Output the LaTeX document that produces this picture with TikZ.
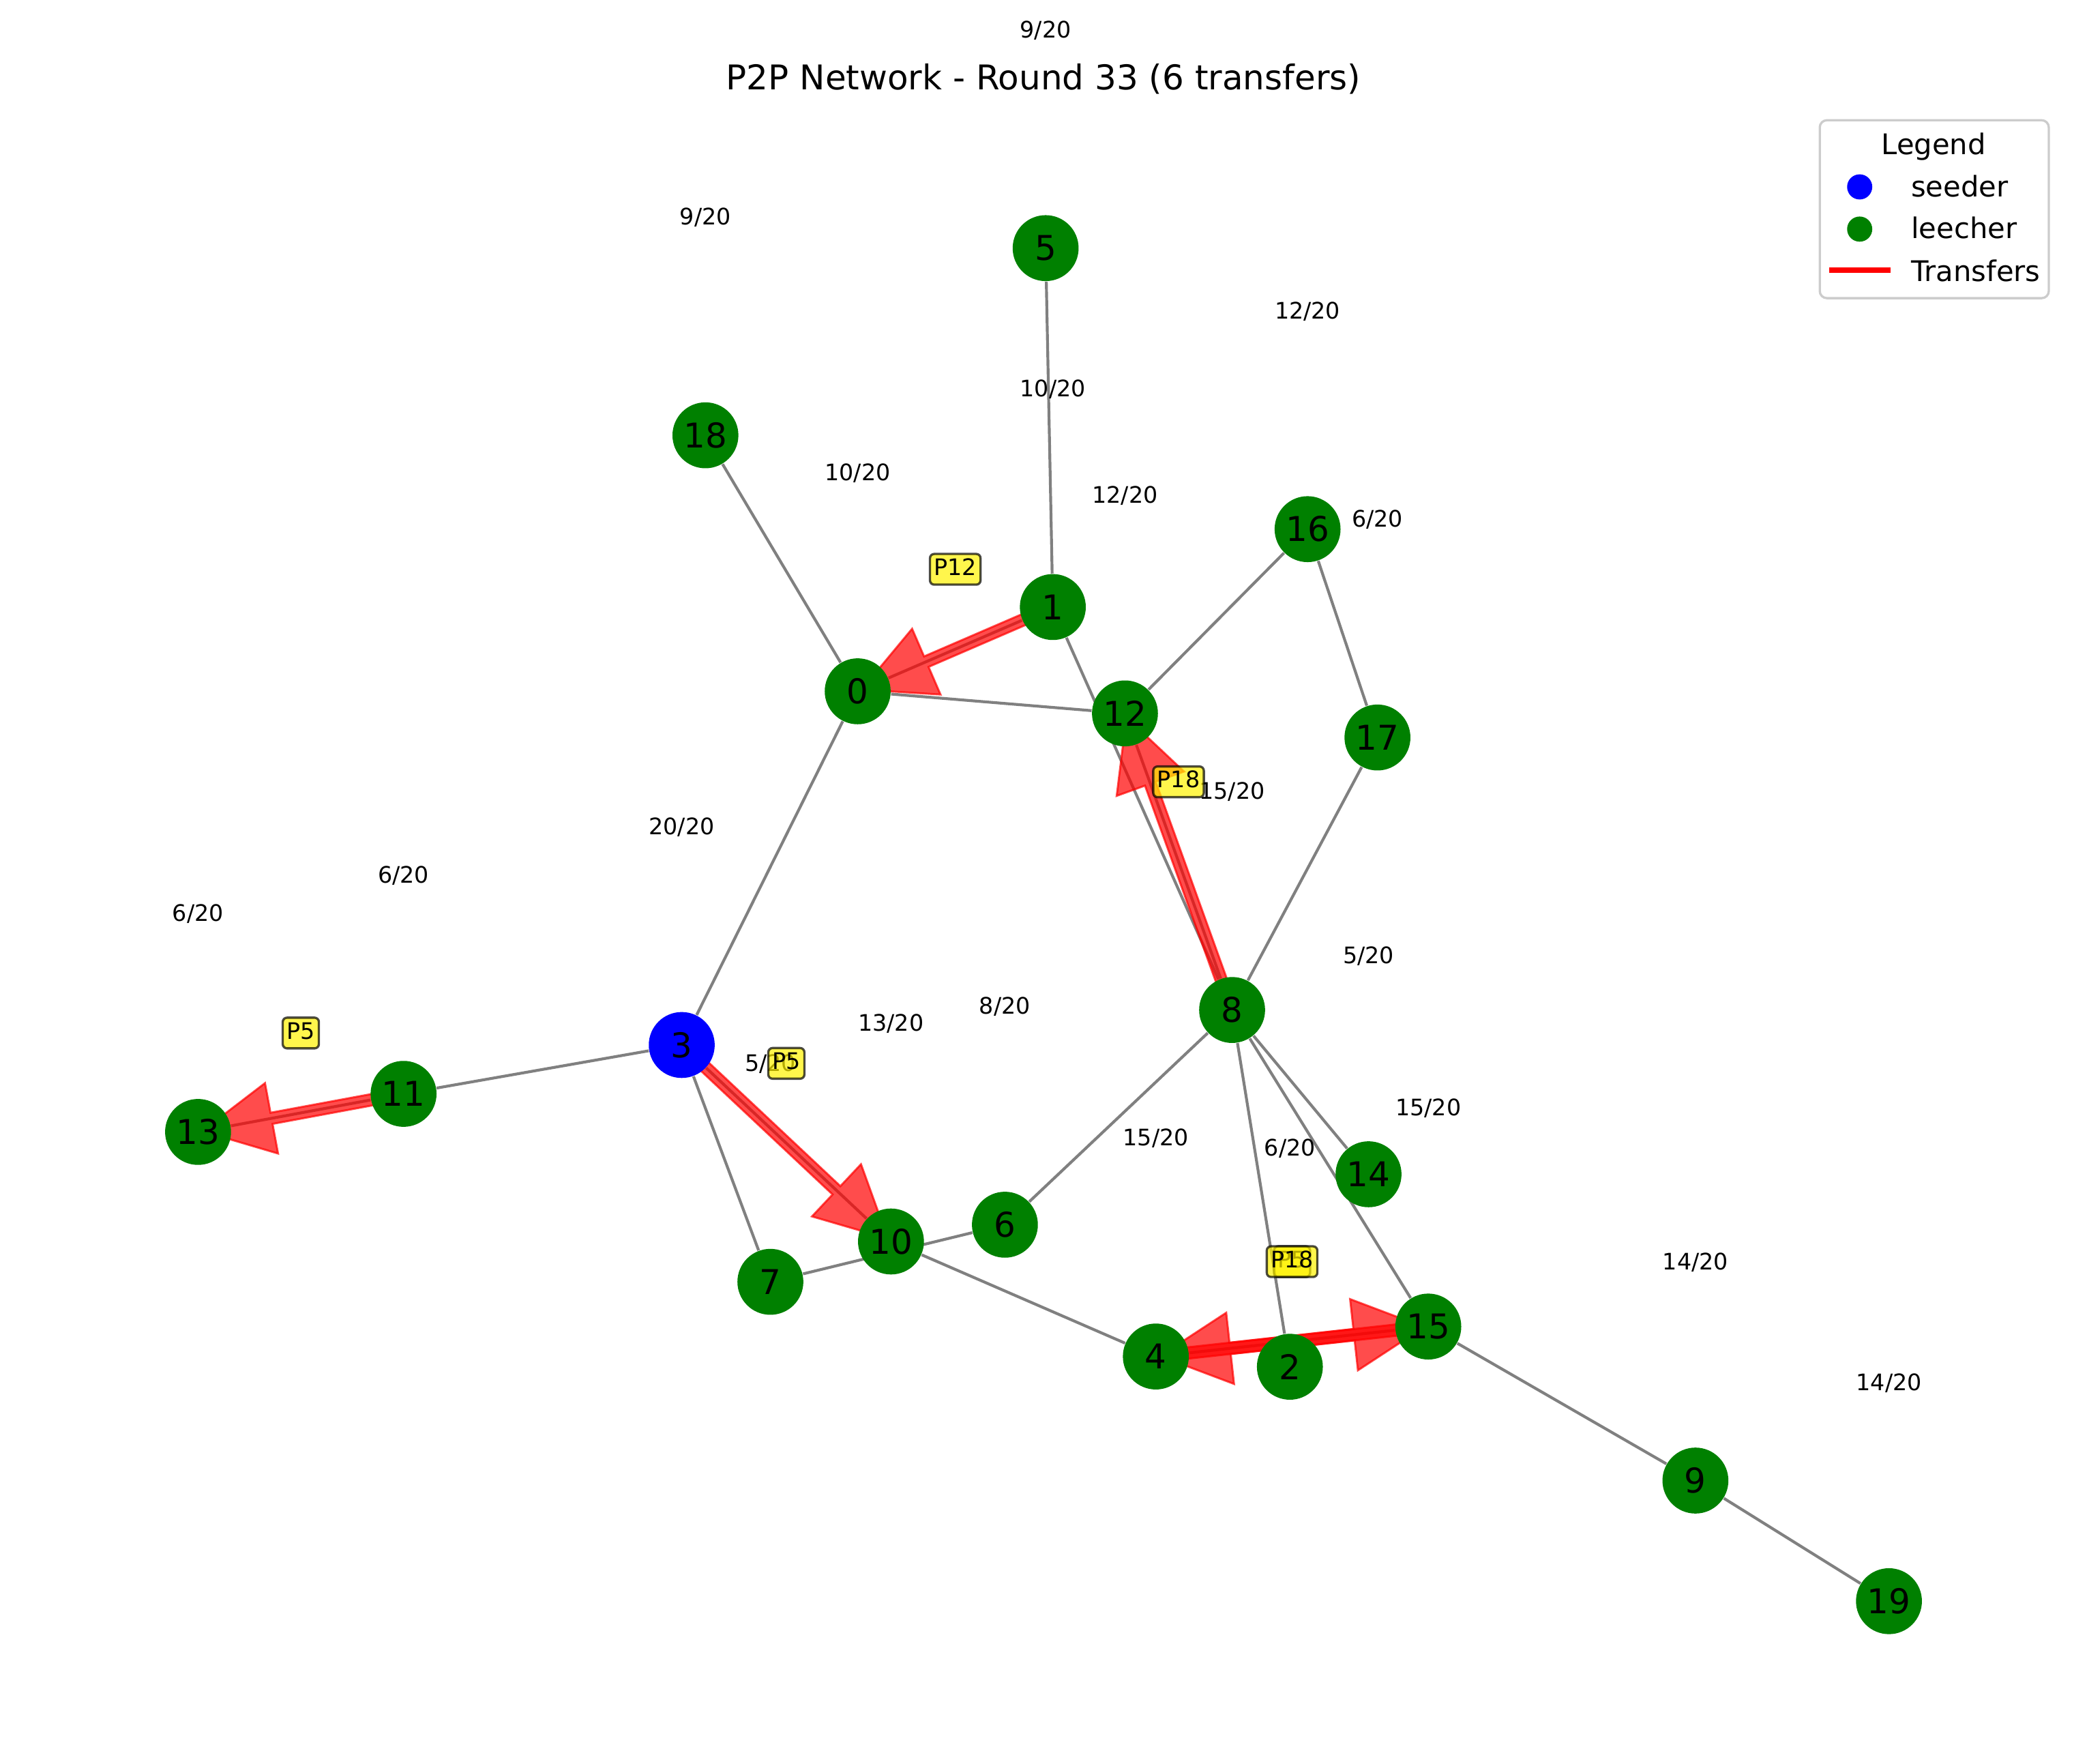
\documentclass[tikz,border=0pt]{standalone}
\usepackage{fontspec}
\setmainfont{DejaVu Sans}
\usetikzlibrary{calc}
\definecolor{mgreen}{RGB}{0,128,0}
\definecolor{lgedge}{RGB}{204,204,204}
\pgfdeclarelayer{bg}
\pgfdeclarelayer{mid}
\pgfsetlayers{bg,mid,main}
\def\xns{0.5pt}
\def\xnt{1.5pt}
\def\xhl{24.8pt}
\def\xhw{12.6pt}
\def\xtw{2.0pt}
\newcommand{\xferarrow}[2]{%
  \coordinate (xs) at ($(#1)!\xns!(#2)$);
  \coordinate (xt) at ($(#2)!\xnt!(#1)$);
  \coordinate (xh) at ($(xt)!\xhl!(xs)$);
  \path[xfer] ($(xs)!\xtw!90:(xt)$) -- ($(xh)!\xtw!-90:(xs)$) -- ($(xh)!\xhw!-90:(xs)$) -- (xt)
     -- ($(xh)!\xhw!90:(xs)$) -- ($(xh)!\xtw!90:(xs)$) -- ($(xs)!\xtw!-90:(xt)$) -- cycle;
}
\begin{document}
\begin{tikzpicture}[x=0.4684pt,y=-0.4684pt,
  peer/.style={circle,fill=mgreen,minimum size=23.2pt,inner sep=0pt,font=\fontsize{12}{14}\selectfont},
  seed/.style={peer,fill=blue},
  link/.style={draw=gray,line width=1pt},
  count/.style={font=\fontsize{8}{9.6}\selectfont,inner sep=0pt,anchor=base},
  piece/.style={draw=black,draw opacity=0.7,fill=yellow,fill opacity=0.7,text opacity=1,rounded corners=1.5pt,line width=0.8pt,font=\fontsize{8}{9.6}\selectfont,inner xsep=1.4pt,inner ysep=1.4pt,text height=6.1pt,text depth=1.9pt},
  xfer/.style={fill=red,fill opacity=0.7,draw=red,draw opacity=0.7,line width=0.7pt,line join=miter},
  legendbox/.style={draw=lgedge,line width=0.8pt,rounded corners=2.5pt,fill=white,fill opacity=0.8,minimum width=80.6pt,minimum height=62.6pt,inner sep=0pt},
  legtext/.style={font=\fontsize{10}{12}\selectfont,inner sep=0pt,anchor=base west},
  keydot/.style={circle,minimum size=8.85pt,inner sep=0pt},
]
\useasboundingbox (0,0) rectangle (1568,1325);

% title
\node[font=\fontsize{12}{14}\selectfont,anchor=base,inner sep=0pt] (title) at (784,67.5) {P2P Network - Round 33 (6 transfers)};

% peers
\node[peer] (n0) at (644.4,519.3) {0};
\node[peer] (n1) at (791,456) {1};
\node[peer] (n2) at (969.1,1026.7) {2};
\node[seed] (n3) at (512.2,785) {3};
\node[peer] (n4) at (868.4,1019) {4};
\node[peer] (n5) at (785.6,186.4) {5};
\node[peer] (n6) at (755,920) {6};
\node[peer] (n7) at (578.8,962.9) {7};
\node[peer] (n8) at (925.7,758.7) {8};
\node[peer] (n9) at (1273.8,1112.2) {9};
\node[peer] (n10) at (669.4,932.6) {10};
\node[peer] (n11) at (303.2,821.7) {11};
\node[peer] (n12) at (845.2,535.9) {12};
\node[peer] (n13) at (148.8,850.3) {13};
\node[peer] (n14) at (1028.2,882.1) {14};
\node[peer] (n15) at (1073.1,996.5) {15};
\node[peer] (n16) at (982.4,397.5) {16};
\node[peer] (n17) at (1034.9,554) {17};
\node[peer] (n18) at (530,327) {18};
\node[peer] (n19) at (1419.2,1202.8) {19};

% network links (under everything)
\begin{pgfonlayer}{bg}
\draw[link] (n5) -- (n1);
\draw[link] (n18) -- (n0);
\draw[link] (n0) -- (n3);
\draw[link] (n0) -- (n12);
\draw[link] (n0) -- (n1);
\draw[link] (n1) -- (n8);
\draw[link] (n12) -- (n8);
\draw[link] (n12) -- (n16);
\draw[link] (n16) -- (n17);
\draw[link] (n17) -- (n8);
\draw[link] (n8) -- (n6);
\draw[link] (n8) -- (n2);
\draw[link] (n8) -- (n14);
\draw[link] (n8) -- (n15);
\draw[link] (n3) -- (n11);
\draw[link] (n11) -- (n13);
\draw[link] (n3) -- (n7);
\draw[link] (n3) -- (n10);
\draw[link] (n7) -- (n6);
\draw[link] (n10) -- (n4);
\draw[link] (n4) -- (n15);
\draw[link] (n15) -- (n9);
\draw[link] (n9) -- (n19);
\end{pgfonlayer}

% transfers (under the peers, over the links)
\begin{pgfonlayer}{mid}
\xferarrow{n1}{n0}
\xferarrow{n8}{n12}
\xferarrow{n11}{n13}
\xferarrow{n3}{n10}
\xferarrow{n4}{n15}
\xferarrow{n15}{n4}
\end{pgfonlayer}

% piece counts
\node[count] (c0) at ($(n0)+(0,-158.2)$) {10/20};
\node[count] (c1) at ($(n1)+(0,-158.2)$) {10/20};
\node[count] (c2) at ($(n2)+(0,-158.2)$) {6/20};
\node[count] (c3) at ($(n3)+(0,-158.2)$) {20/20};
\node[count] (c4) at ($(n4)+(0,-158.2)$) {15/20};
\node[count] (c5) at ($(n5)+(0,-158.2)$) {9/20};
\node[count] (c6) at ($(n6)+(0,-158.2)$) {8/20};
\node[count] (c7) at ($(n7)+(0,-158.2)$) {5/20};
\node[count] (c8) at ($(n8)+(0,-158.2)$) {15/20};
\node[count] (c9) at ($(n9)+(0,-158.2)$) {14/20};
\node[count] (c10) at ($(n10)+(0,-158.2)$) {13/20};
\node[count] (c11) at ($(n11)+(0,-158.2)$) {6/20};
\node[count] (c12) at ($(n12)+(0,-158.2)$) {12/20};
\node[count] (c13) at ($(n13)+(0,-158.2)$) {6/20};
\node[count] (c14) at ($(n14)+(0,-158.2)$) {5/20};
\node[count] (c15) at ($(n15)+(0,-158.2)$) {15/20};
\node[count] (c16) at ($(n16)+(0,-158.2)$) {12/20};
\node[count] (c17) at ($(n17)+(0,-158.2)$) {6/20};
\node[count] (c18) at ($(n18)+(0,-158.2)$) {9/20};
\node[count] (c19) at ($(n19)+(0,-158.2)$) {14/20};

% piece labels
\node[piece] (p10) at ($(n1)!0.5!(n0)+(0,-60)$) {P12};
\node[piece] (p812) at ($(n8)!0.5!(n12)+(0,-60)$) {P18};
\node[piece] (p1113) at ($(n11)!0.5!(n13)+(0,-60)$) {P5};
\node[piece] (p310) at ($(n3)!0.5!(n10)+(0,-60)$) {P5};
\node[piece] (p415) at ($(n4)!0.5!(n15)+(0,-60)$) {P5};
\node[piece] (p154) at ($(n15)!0.5!(n4)+(0,-60)$) {P18};

% legend
\node[legendbox] (legend) at (1453.25,157.15) {};
\node[font=\fontsize{10}{12}\selectfont,anchor=base,inner sep=0pt] (legtitle) at (1452.8,116) {Legend};
\node[keydot,fill=blue] (kseed) at (1397.2,140.4) {};
\node[legtext] (tseed) at (1435.5,147.6) {seeder};
\node[keydot,fill=mgreen] (kleech) at (1397.2,172.1) {};
\node[legtext] (tleech) at (1435.5,179.3) {leecher};
\coordinate (ka) at (1374.1,202.9);
\coordinate (kb) at (1420.3,202.9);
\draw[red,line width=2pt] (ka) -- (kb);
\node[legtext] (txfer) at (1435.5,211.2) {Transfers};
\end{tikzpicture}
\end{document}
